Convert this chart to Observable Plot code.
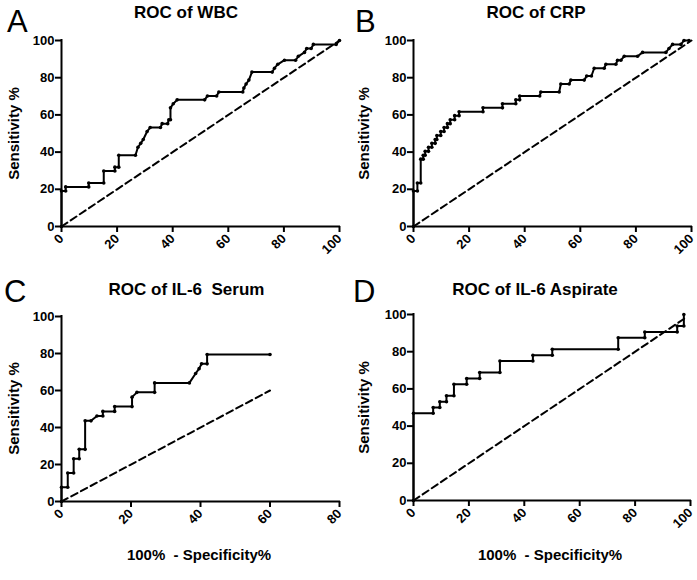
<!DOCTYPE html>
<html><head><meta charset="utf-8">
<script src="https://cdn.jsdelivr.net/npm/d3@7"></script>
<script src="https://cdn.jsdelivr.net/npm/@observablehq/plot@0.6"></script>
<style>
body{margin:0;background:#fff;}
#root{position:relative;width:697px;height:580px;overflow:hidden;font-family:"Liberation Sans",Arial,sans-serif;color:#000;}
.abs{position:absolute;white-space:pre;line-height:1;}
.title{font-weight:bold;font-size:17px;width:300px;text-align:center;}
.letter{font-size:31px;}
.ylab{font-weight:bold;font-size:15px;width:200px;text-align:center;transform:rotate(-90deg);}
.xlab{font-weight:bold;font-size:15px;width:300px;text-align:center;}
</style></head><body><div id="root"></div>
<script>
// ---- data ----
const yTicks = [0, 20, 40, 60, 80, 100];
const xTicksFull = [0, 20, 40, 60, 80, 100];
const xTicksSerum = [0, 20, 40, 60, 80];

const wbcFpr  = [0,0,1.5,1.5,9.8,9.8,15.2,15.2,19.2,19.2,20.6,20.6,26.6,27.5,28.5,29.4,30.8,31.9,35.6,36.2,38.2,38.6,39.2,39.2,40.2,41.6,51.5,52.5,55.8,56.6,65.2,65.6,66.4,67.4,68.5,75.8,76.6,77.8,80.2,84.2,85.2,87.4,88.2,89.8,90.6,98.8,100];
const wbcSens = [0,19.1,19.1,21.3,21.3,23.4,23.4,29.8,29.8,31.9,31.9,38.3,38.3,42.6,44.7,46.8,51.1,53.2,53.2,55.3,55.3,57.4,57.4,63.8,66.0,68.1,68.1,70.2,70.2,72.3,72.3,74.5,76.6,78.7,83.0,83.0,85.1,87.2,89.4,89.4,91.5,93.6,95.7,95.7,97.9,97.9,100];

const crpFpr  = [0,0,1.4,1.4,2.6,2.6,3.5,3.5,4.2,4.2,5.4,5.4,6.6,6.6,7.8,7.8,8.4,8.4,9.8,9.8,11,11,12.2,12.2,13.2,13.2,14.8,14.8,16.4,16.4,25,25,32,32,36.8,36.8,38.2,38.2,45.4,45.8,52.4,53,56,56.6,61.4,62.3,64,65,68.6,69.2,72.8,73.4,74.6,75.8,80.6,82.4,90.8,91.9,93.2,96.2,97.3,99.1];
const crpSens = [0,19.1,19.1,23.4,23.4,36.2,36.2,38.3,38.3,40.4,40.4,42.6,42.6,44.7,44.7,46.8,46.8,48.9,48.9,51.1,51.1,53.2,53.2,55.3,55.3,57.4,57.4,59.6,59.6,61.7,61.7,63.8,63.8,66.0,66.0,68.1,68.1,70.2,70.2,72.3,72.3,76.6,76.6,78.7,78.7,80.9,80.9,85.1,85.1,87.2,87.2,89.4,89.4,91.5,91.5,93.6,93.6,95.7,97.9,97.9,100,100];

const serumFpr  = [0,0,1.8,1.8,3.5,3.5,5.1,5.1,6.8,6.8,8.5,10.2,11.9,11.9,15.3,15.3,20.3,20.3,21.7,26.8,26.8,36.8,38.6,39.6,40.3,41.9,41.9,60];
const serumSens = [0,7.7,7.7,15.4,15.4,23.1,23.1,28.2,28.2,43.6,43.6,46.2,46.2,48.7,48.7,51.3,51.3,56.4,59.0,59.0,64.1,64.1,69.2,71.8,74.4,74.4,79.5,79.5];

const aspFpr  = [0,0,7.1,7.1,9.5,9.5,11.9,11.9,14.6,14.6,19.2,19.2,23.9,23.9,31.2,31.2,43.1,43.1,50.1,50.1,73.9,73.9,83.5,83.5,95.2,95.2,97.6,97.6];
const aspSens = [0,46.9,46.9,50,50,53.1,53.1,56.3,56.3,62.5,62.5,65.6,65.6,68.8,68.8,75,75,78.1,78.1,81.3,81.3,87.5,87.5,90.6,90.6,93.8,93.8,100];

// reference (chance) line end points
const diagWbc = [0, 100];
const diagCrp = [0, 100];
const diagSerum = [0, 60];
const diagAsp = [0, 98];

const root = document.getElementById("root");

function addText(cls, text, left, top) {
  const d = document.createElement("div");
  d.className = "abs " + cls;
  d.textContent = text;
  d.style.left = left + "px";
  d.style.top = top + "px";
  root.appendChild(d);
}

function panel(o) {
  const pts = o.fpr.map((x, i) => ({x, y: o.sens[i]}));
  const svg = Plot.plot({
    width: o.width, height: o.height,
    marginTop: o.mt, marginBottom: o.mb, marginLeft: o.ml, marginRight: o.mr,
    style: {fontFamily: '"Liberation Sans", Arial, sans-serif', fontSize: "13px", fontWeight: "bold", background: "transparent", color: "black", overflow: "visible"},
    x: {domain: o.xDomain},
    y: {domain: [0, 100]},
    marks: [
      Plot.line(o.diag, {x: d => d, y: d => d, stroke: "black", strokeWidth: 2, strokeDasharray: "7,4"}),
      Plot.line(pts, {x: "x", y: "y", stroke: "black", strokeWidth: 2, strokeLinejoin: "miter"}),
      Plot.dot(pts, {x: "x", y: "y", r: 1.8, fill: "black"}),
      Plot.ruleX([0], {stroke: "black", strokeWidth: 2, strokeLinecap: "square"}),
      Plot.ruleY([0], {stroke: "black", strokeWidth: 2, strokeLinecap: "square"}),
      Plot.axisX({ticks: o.xTicks, tickSize: 6, tickRotate: -45, tickPadding: 4, strokeWidth: 2, label: null}),
      Plot.axisY({ticks: yTicks, tickSize: 6, tickPadding: 1, strokeWidth: 2, label: null})
    ]
  });
  svg.style.position = "absolute";
  svg.style.left = o.left + "px";
  svg.style.top = o.top + "px";
  root.appendChild(svg);
}

panel({fpr: wbcFpr, sens: wbcSens, diag: diagWbc, xDomain: [0, 100], xTicks: xTicksFull,
  left: 0, top: 30, width: 349, height: 230, mt: 10, mb: 34, ml: 61, mr: 10});
panel({fpr: crpFpr, sens: crpSens, diag: diagCrp, xDomain: [0, 100], xTicks: xTicksFull,
  left: 351, top: 30, width: 345, height: 230, mt: 10, mb: 34, ml: 62, mr: 5});
panel({fpr: serumFpr, sens: serumSens, diag: diagSerum, xDomain: [0, 80], xTicks: xTicksSerum,
  left: 0, top: 300, width: 349, height: 240, mt: 16, mb: 39, ml: 61, mr: 10});
panel({fpr: aspFpr, sens: aspSens, diag: diagAsp, xDomain: [0, 100], xTicks: xTicksFull,
  left: 351, top: 300, width: 345, height: 240, mt: 14, mb: 40, ml: 62, mr: 6});

// titles
addText("title", "ROC of WBC", 186 - 150, 4);
addText("title", "ROC of CRP", 536 - 150, 4);
addText("title", "ROC of IL-6  Serum", 186.5 - 150, 280.6);
addText("title", "ROC of IL-6 Aspirate", 535 - 150, 280.6);
// panel letters
addText("letter", "A", 7, 5.5);
addText("letter", "B", 355, 5.5);
addText("letter", "C", 4, 276);
addText("letter", "D", 353, 276);
// y labels
addText("ylab", "Sensitivity %", 12.5 - 100, 133 - 7.5);
addText("ylab", "Sensitivity %", 362.5 - 100, 133 - 7.5);
addText("ylab", "Sensitivity %", 12.5 - 100, 408 - 7.5);
addText("ylab", "Sensitivity %", 362.5 - 100, 407 - 7.5);
// x labels
addText("xlab", "100%  - Specificity%", 199 - 150, 547.3);
addText("xlab", "100%  - Specificity%", 550 - 150, 547.3);
</script>
</body></html>
